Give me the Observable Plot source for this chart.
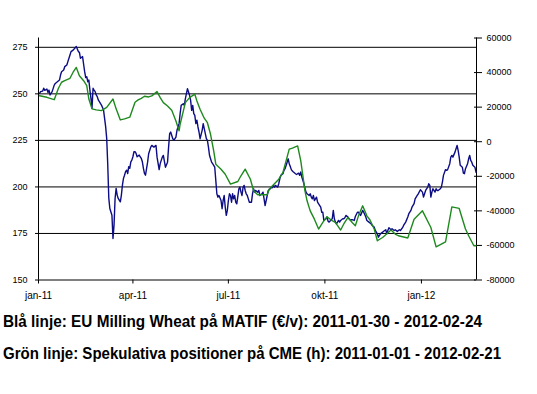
<!DOCTYPE html>
<html><head><meta charset="utf-8">
<script src="https://cdn.jsdelivr.net/npm/d3@7"></script>
<script src="https://cdn.jsdelivr.net/npm/@observablehq/plot@0.6"></script>
<style>
html,body{margin:0;padding:0;background:#fff;}
#chart svg{display:block;}
.cap{position:absolute;left:3px;font-family:"Liberation Sans",Arial,sans-serif;font-weight:bold;font-size:16px;line-height:20px;color:#000;white-space:nowrap;transform-origin:0 50%;}
</style></head><body>
<div id="chart"></div>
<div class="cap" id="c1" style="top:312px"></div>
<div class="cap" id="c2" style="top:344px"></div>
<script>
// ---- data ----
const leftDomain = [150, 280];
const rightDomain = [-80000, 60000];
const leftTicks = [150, 175, 200, 225, 250, 275];
const gridValues = [175, 200, 225, 250, 275];
const rightTicks = [60000, 40000, 20000, 0, -20000, -40000, -60000, -80000];
const xDomain = ["2011-01-01", "2012-02-22T12:00Z"];
const xTickDates = ["2011-01-01", "2011-04-01", "2011-07-01", "2011-10-01", "2012-01-01"];
const xTickLabels = ["jan-11", "apr-11", "jul-11", "okt-11", "jan-12"];
const captions = [
  "Blå linje: EU Milling Wheat på MATIF (€/v): 2011-01-30 - 2012-02-24",
  "Grön linje: Spekulativa positioner på CME (h): 2011-01-01 - 2012-02-21"
];
// Blue: EU Milling Wheat (€/t), left axis
const blueSeries = [
["2011-01-02",250.3],["2011-01-03",251.2],["2011-01-05",251.5],["2011-01-06",253.0],["2011-01-07",251.9],["2011-01-09",252.6],["2011-01-10",250.8],["2011-01-11",252.0],["2011-01-12",249.4],["2011-01-14",251.2],["2011-01-16",254.7],["2011-01-17",255.6],["2011-01-19",256.5],["2011-01-21",257.4],["2011-01-22",260.1],["2011-01-23",261.9],["2011-01-25",262.8],["2011-01-26",264.6],["2011-01-28",265.5],["2011-01-29",267.3],["2011-01-31",270.9],
["2011-02-01",272.7],["2011-02-03",273.5],["2011-02-05",274.8],["2011-02-06",275.4],["2011-02-07",274.1],["2011-02-08",272.7],["2011-02-09",272.3],["2011-02-10",269.1],["2011-02-12",270.0],["2011-02-13",265.9],["2011-02-14",261.9],["2011-02-15",258.7],["2011-02-16",259.2],["2011-02-17",256.5],["2011-02-18",257.4],["2011-02-19",252.0],["2011-02-20",247.6],["2011-02-21",242.2],["2011-02-22",253.0],["2011-02-23",252.0],["2011-02-24",251.2],["2011-02-25",249.4],["2011-02-26",248.5],["2011-02-27",246.7],["2011-02-28",245.8],
["2011-03-02",244.0],["2011-03-04",241.3],["2011-03-05",236.8],["2011-03-06",232.4],["2011-03-07",226.1],["2011-03-08",212.0],["2011-03-09",194.0],["2011-03-10",188.4],["2011-03-12",184.8],["2011-03-13",172.3],["2011-03-14",179.5],["2011-03-15",193.8],["2011-03-16",199.2],["2011-03-17",195.6],["2011-03-18",193.8],["2011-03-20",192.0],["2011-03-21",195.6],["2011-03-22",201.0],["2011-03-23",204.6],["2011-03-24",206.3],["2011-03-25",208.2],["2011-03-26",209.0],["2011-03-27",207.2],["2011-03-28",210.9],["2011-03-29",210.0],["2011-03-30",213.5],["2011-03-31",214.4],
["2011-04-01",216.2],["2011-04-02",218.9],["2011-04-03",218.9],["2011-04-04",218.0],["2011-04-05",216.2],["2011-04-07",217.1],["2011-04-08",216.2],["2011-04-09",215.3],["2011-04-10",213.5],["2011-04-11",210.0],["2011-04-12",207.3],["2011-04-13",206.3],["2011-04-14",209.8],["2011-04-15",213.3],["2011-04-16",217.8],["2011-04-18",221.4],["2011-04-19",222.3],["2011-04-21",221.4],["2011-04-23",222.3],["2011-04-24",216.0],["2011-04-26",209.3],["2011-04-27",212.5],["2011-04-29",216.0],["2011-04-30",216.9],
["2011-05-02",210.6],["2011-05-04",213.3],["2011-05-05",221.4],["2011-05-06",228.6],["2011-05-07",229.5],["2011-05-09",225.9],["2011-05-10",225.0],["2011-05-12",226.8],["2011-05-13",230.4],["2011-05-15",234.0],["2011-05-16",239.4],["2011-05-17",243.8],["2011-05-19",244.7],["2011-05-20",243.8],["2011-05-21",247.4],["2011-05-22",250.1],["2011-05-23",252.8],["2011-05-24",251.0],["2011-05-25",249.2],["2011-05-26",246.5],["2011-05-27",241.1],["2011-05-28",243.8],["2011-05-29",239.4],["2011-05-30",238.4],["2011-05-31",234.0],
["2011-06-01",235.8],["2011-06-02",232.2],["2011-06-03",229.5],["2011-06-04",225.9],["2011-06-06",230.4],["2011-06-07",234.0],["2011-06-08",231.3],["2011-06-09",228.6],["2011-06-10",225.9],["2011-06-11",225.0],["2011-06-12",221.4],["2011-06-13",217.0],["2011-06-14",215.1],["2011-06-15",213.3],["2011-06-16",212.5],["2011-06-17",211.6],["2011-06-18",210.6],["2011-06-19",203.5],["2011-06-20",196.3],["2011-06-21",194.5],["2011-06-22",195.4],["2011-06-24",192.7],["2011-06-25",188.3],["2011-06-26",192.7],["2011-06-27",195.4],["2011-06-28",189.1],["2011-06-29",184.7],["2011-06-30",187.4],
["2011-07-01",192.7],["2011-07-02",196.3],["2011-07-03",195.4],["2011-07-04",191.8],["2011-07-05",196.3],["2011-07-06",193.6],["2011-07-07",195.4],["2011-07-08",191.8],["2011-07-09",190.9],["2011-07-11",199.0],["2011-07-12",199.9],["2011-07-13",197.2],["2011-07-14",195.4],["2011-07-15",199.9],["2011-07-16",200.8],["2011-07-17",198.1],["2011-07-18",196.3],["2011-07-19",195.4],["2011-07-20",193.6],["2011-07-21",191.8],["2011-07-23",191.8],["2011-07-24",196.3],["2011-07-25",199.0],["2011-07-26",197.2],["2011-07-27",198.1],["2011-07-29",197.2],["2011-07-30",198.1],["2011-07-31",195.4],
["2011-08-02",196.3],["2011-08-03",197.2],["2011-08-04",193.6],["2011-08-05",190.0],["2011-08-06",192.7],["2011-08-07",195.4],["2011-08-08",198.1],["2011-08-10",199.0],["2011-08-11",199.9],["2011-08-12",199.6],["2011-08-13",200.8],["2011-08-14",199.9],["2011-08-15",200.8],["2011-08-17",199.9],["2011-08-18",201.7],["2011-08-19",204.4],["2011-08-20",206.2],["2011-08-22",207.1],["2011-08-23",208.9],["2011-08-24",209.8],["2011-08-26",213.3],["2011-08-27",215.1],["2011-08-28",212.5],["2011-08-29",211.0],["2011-08-30",209.3],["2011-08-31",208.5],
["2011-09-01",208.0],["2011-09-03",207.1],["2011-09-04",206.7],["2011-09-05",207.1],["2011-09-06",207.4],["2011-09-07",206.2],["2011-09-08",208.0],["2011-09-09",205.3],["2011-09-11",201.7],["2011-09-12",199.0],["2011-09-13",197.2],["2011-09-14",196.3],["2011-09-16",195.4],["2011-09-17",196.3],["2011-09-18",194.5],["2011-09-19",193.6],["2011-09-20",195.4],["2011-09-21",192.7],["2011-09-23",194.5],["2011-09-24",191.8],["2011-09-25",190.9],["2011-09-27",189.1],["2011-09-28",186.4],["2011-09-29",186.4],["2011-09-30",182.0],
["2011-10-02",182.9],["2011-10-03",183.8],["2011-10-04",181.6],["2011-10-05",181.1],["2011-10-07",182.4],["2011-10-08",182.9],["2011-10-09",187.4],["2011-10-10",182.9],["2011-10-11",181.1],["2011-10-12",180.2],["2011-10-14",182.0],["2011-10-15",181.1],["2011-10-16",182.0],["2011-10-18",182.9],["2011-10-19",182.9],["2011-10-20",183.4],["2011-10-21",184.7],["2011-10-23",183.8],["2011-10-24",182.9],["2011-10-25",182.4],["2011-10-27",182.4],["2011-10-29",182.0],["2011-10-30",184.1],
["2011-11-01",186.4],["2011-11-02",186.4],["2011-11-04",184.7],["2011-11-06",187.4],["2011-11-07",186.4],["2011-11-09",183.8],["2011-11-10",182.0],["2011-11-12",181.1],["2011-11-14",180.2],["2011-11-15",179.3],["2011-11-17",178.4],["2011-11-18",176.6],["2011-11-20",174.8],["2011-11-21",173.0],["2011-11-23",174.8],["2011-11-25",175.7],["2011-11-26",176.2],["2011-11-28",177.0],["2011-11-29",174.8],["2011-11-30",176.6],
["2011-12-01",178.1],["2011-12-03",177.0],["2011-12-04",177.5],["2011-12-06",176.6],["2011-12-07",177.0],["2011-12-09",176.1],["2011-12-11",177.0],["2011-12-12",176.6],["2011-12-14",178.1],["2011-12-15",179.3],["2011-12-17",181.1],["2011-12-19",183.8],["2011-12-20",185.6],["2011-12-22",187.4],["2011-12-23",189.1],["2011-12-25",191.0],["2011-12-26",193.6],["2011-12-28",195.4],["2011-12-29",196.3],["2011-12-31",198.5],
["2012-01-02",197.2],["2012-01-03",194.5],["2012-01-04",196.3],["2012-01-05",198.1],["2012-01-07",199.9],["2012-01-08",201.7],["2012-01-09",200.8],["2012-01-10",194.5],["2012-01-11",197.2],["2012-01-12",199.0],["2012-01-14",197.2],["2012-01-15",199.0],["2012-01-16",198.1],["2012-01-17",198.1],["2012-01-19",199.0],["2012-01-20",199.9],["2012-01-21",202.6],["2012-01-22",206.2],["2012-01-24",209.3],["2012-01-25",208.9],["2012-01-26",209.3],["2012-01-28",212.5],["2012-01-29",216.0],["2012-01-30",216.9],["2012-01-31",216.0],
["2012-02-02",218.7],["2012-02-03",220.5],["2012-02-04",222.3],["2012-02-05",219.6],["2012-02-06",216.0],["2012-02-07",211.6],["2012-02-09",210.6],["2012-02-10",207.4],["2012-02-11",207.1],["2012-02-12",209.8],["2012-02-14",212.5],["2012-02-15",215.1],["2012-02-16",216.9],["2012-02-17",214.2],["2012-02-18",213.3],["2012-02-19",211.6],["2012-02-21",210.6],["2012-02-22",207.9]
];
// Green: speculative positions on CME (contracts), right axis
const greenSeries = [
["2011-01-02",26600],["2011-01-09",25700],["2011-01-12",25100],["2011-01-16",24300],["2011-01-20",30900],["2011-01-23",34400],["2011-01-26",35300],["2011-01-31",36700],["2011-02-03",40200],["2011-02-06",43000],["2011-02-09",38200],["2011-02-13",35300],["2011-02-16",32400],["2011-02-18",24700],["2011-02-21",19000],["2011-02-25",18400],["2011-03-02",18000],["2011-03-07",19900],["2011-03-13",24700],["2011-03-16",19000],["2011-03-20",12600],["2011-03-24",13200],["2011-03-29",14200],["2011-04-03",22800],["2011-04-06",24200],["2011-04-09",25100],["2011-04-12",26300],["2011-04-16",25900],["2011-04-19",26500],["2011-04-24",29000],["2011-04-27",25500],["2011-04-30",22600],["2011-05-04",20700],["2011-05-08",18200],["2011-05-12",12000],["2011-05-15",6300],["2011-05-16",10100],["2011-05-21",22600],["2011-05-25",25500],["2011-05-30",27500],["2011-06-01",23600],["2011-06-04",18800],["2011-06-08",13600],["2011-06-11",11000],["2011-06-14",4300],["2011-06-17",-5300],["2011-06-19",-13000],["2011-06-24",-15900],["2011-06-28",-18800],["2011-07-03",-24500],["2011-07-10",-23000],["2011-07-13",-19700],["2011-07-17",-15900],["2011-07-22",-21700],["2011-07-25",-28400],["2011-07-29",-30700],["2011-08-03",-30700],["2011-08-07",-30700],["2011-08-09",-27400],["2011-08-13",-24900],["2011-08-18",-21700],["2011-08-22",-17800],["2011-08-25",-11100],["2011-08-28",-4300],["2011-08-31",-3700],["2011-09-05",-2400],["2011-09-08",-11100],["2011-09-10",-19700],["2011-09-12",-28400],["2011-09-14",-34200],["2011-09-17",-40000],["2011-09-21",-44800],["2011-09-25",-50500],["2011-09-29",-46700],["2011-10-03",-43400],["2011-10-07",-45300],["2011-10-11",-46700],["2011-10-16",-51100],["2011-10-19",-47600],["2011-10-23",-43800],["2011-10-27",-46700],["2011-10-30",-48600],["2011-11-02",-42900],["2011-11-06",-37100],["2011-11-10",-42900],["2011-11-13",-45300],["2011-11-17",-50500],["2011-11-20",-57300],["2011-11-25",-55400],["2011-11-28",-53800],["2011-12-03",-51100],["2011-12-07",-53400],["2011-12-10",-54400],["2011-12-19",-55700],["2011-12-25",-44800],["2012-01-02",-40000],["2012-01-10",-49600],["2012-01-15",-60800],["2012-01-24",-57900],["2012-01-30",-37700],["2012-02-06",-38600],["2012-02-12",-50500],["2012-02-15",-54400],["2012-02-20",-60200],["2012-02-22",-60200]
];
const captionWidths = [479, 498];

// ---- chart ----
const toLeft = v => leftDomain[0] + (v - rightDomain[0]) / (rightDomain[1] - rightDomain[0]) * (leftDomain[1] - leftDomain[0]);
const fromLeft = d => Math.round(rightDomain[0] + (d - leftDomain[0]) / (leftDomain[1] - leftDomain[0]) * (rightDomain[1] - rightDomain[0]));
const xTicks = xTickDates.map(s => new Date(s));
const xLabel = new Map(xTicks.map((d, i) => [+d, xTickLabels[i]]));
const x0 = new Date(xDomain[0]), x1 = new Date(xDomain[1]);
const rightTicksL = rightTicks.map(toLeft);

const chart = Plot.plot({
  width: 537, height: 305,
  marginLeft: 38, marginRight: 61, marginTop: 37.5, marginBottom: 25.5,
  style: {fontFamily: "Liberation Sans, Arial, sans-serif", fontSize: "9px", color: "#000", background: "#fff"},
  x: {type: "utc", domain: [x0, x1]},
  y: {domain: leftDomain},
  marks: [
    Plot.ruleY(gridValues, {stroke: "#000", strokeWidth: 1}),
    Plot.ruleY([leftDomain[0]], {stroke: "#000", strokeWidth: 1}),
    Plot.ruleX([x0, x1], {stroke: "#000", strokeWidth: 1}),
    Plot.axisY(leftTicks, {anchor: "left", tickSize: 3, tickPadding: 8, tickFormat: d => String(d), label: null}),
    Plot.axisY(rightTicksL, {anchor: "right", tickSize: 8, dx: -3, tickFormat: () => "", label: null}),
    Plot.axisY(rightTicksL, {anchor: "right", tickSize: 0, tickPadding: 10, tickFormat: d => String(fromLeft(d)), label: null}),
    Plot.axisX(xTicks, {anchor: "bottom", tickSize: 4, tickPadding: 8, fontSize: 10, tickFormat: d => xLabel.get(+d), label: null}),
    Plot.line(blueSeries, {x: d => new Date(d[0]), y: d => d[1], stroke: "#0c0c84", strokeWidth: 1.4}),
    Plot.line(greenSeries, {x: d => new Date(d[0]), y: d => toLeft(d[1]), stroke: "#1e8a1e", strokeWidth: 1.4})
  ]
});
document.getElementById("chart").appendChild(chart);
["c1", "c2"].forEach((id, i) => {
  const el = document.getElementById(id);
  el.textContent = captions[i];
  const w = el.getBoundingClientRect().width;
  el.style.transform = `scaleX(${captionWidths[i] / w})`;
});
</script>
</body></html>
